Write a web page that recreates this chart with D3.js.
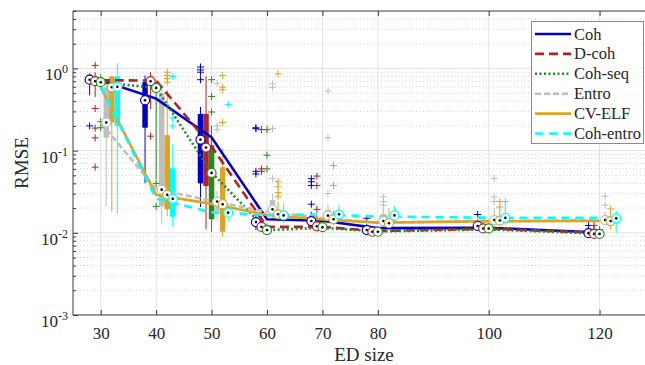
<!DOCTYPE html>
<html><head><meta charset="utf-8">
<script src="https://cdn.jsdelivr.net/npm/d3@7"></script>
<style>
body{margin:0;background:#fff}
text{font-family:"Liberation Serif","Times New Roman",serif;fill:#262626}
</style>
</head><body>
<svg id="c" width="645" height="365"></svg>
<script>
// ---------------- DATA ----------------
const sizes = [30, 40, 50, 60, 70, 80, 100, 120];
const methods = ["Coh", "D-coh", "Coh-seq", "Entro", "CV-ELF", "Coh-entro"];
const groupOffsets = [-2, -1, 0, 1, 2, 3];
const yTickExps = [-3, -2, -1, 0];

// Coh
const cohMed  = [0.73, 0.41, 0.136, 0.0135, 0.0139, 0.0108, 0.0121, 0.0099];
const cohQ1   = [0.70, 0.19, 0.040, 0.0125, 0.0130, 0.0104, 0.0116, 0.0096];
const cohQ3   = [0.77, 0.68, 0.28, 0.0145, 0.0148, 0.0114, 0.0127, 0.0104];
const cohLo   = [0.47, 0.040, 0.0206, 0.0108, 0.0115, 0.0098, 0.0108, 0.0092];
const cohHi   = [0.87, 0.82, 0.34, 0.018, 0.018, 0.0128, 0.0145, 0.0115];
const cohOut  = [[0.2], [], [1.04, 0.96, 0.9, 0.73], [0.19, 0.185, 0.056, 0.052], [0.0456, 0.0418, 0.0377, 0.0223], [0.015], [0.0167], [0.0123]];
const cohLine = [0.72, 0.43, 0.145, 0.0146, 0.014, 0.0114, 0.0115, 0.0101];

// D-coh
const dcohMed  = [0.70, 0.70, 0.109, 0.0118, 0.0120, 0.0103, 0.0113, 0.0097];
const dcohQ1   = [0.67, 0.65, 0.037, 0.0112, 0.0115, 0.0099, 0.0109, 0.0094];
const dcohQ3   = [0.74, 0.76, 0.28, 0.0128, 0.0128, 0.0109, 0.0119, 0.0102];
const dcohLo   = [0.45, 0.32, 0.011, 0.0105, 0.0108, 0.0095, 0.0103, 0.0091];
const dcohHi   = [0.90, 0.90, 0.80, 0.016, 0.016, 0.012, 0.013, 0.011];
const dcohOut  = [[1.09, 0.326, 0.188, 0.143, 0.063], [0.15], [], [0.18, 0.06, 0.056], [0.049, 0.0377, 0.0193], [], [], [0.0123, 0.011]];
const dcohLine = [0.72, 0.71, 0.112, 0.0118, 0.0118, 0.0105, 0.0112, 0.0100];

// Coh-seq
const seqMed  = [0.68, 0.58, 0.0536, 0.0108, 0.0117, 0.0103, 0.0113, 0.0097];
const seqQ1   = [0.65, 0.52, 0.0146, 0.0104, 0.0112, 0.0099, 0.0109, 0.0094];
const seqQ3   = [0.72, 0.64, 0.116, 0.0115, 0.0124, 0.0108, 0.0118, 0.0101];
const seqLo   = [0.55, 0.045, 0.0103, 0.0098, 0.0105, 0.0094, 0.0103, 0.0090];
const seqHi   = [0.85, 0.70, 0.20, 0.013, 0.014, 0.0118, 0.013, 0.0105];
const seqOut  = [[0.225, 0.19], [0.04, 0.021], [0.73, 0.457, 0.295], [0.18, 0.088, 0.06], [], [], [], [0.0109]];
const seqLine = [0.68, 0.58, 0.054, 0.0108, 0.0115, 0.0104, 0.0110, 0.0098];

// Entro
const entMed  = [0.22, 0.0335, 0.024, 0.0193, 0.0162, 0.0139, 0.0143, 0.0143];
const entQ1   = [0.144, 0.021, 0.0185, 0.0175, 0.015, 0.0133, 0.0136, 0.0137];
const entQ3   = [0.59, 0.50, 0.027, 0.025, 0.019, 0.017, 0.016, 0.0155];
const entLo   = [0.0207, 0.013, 0.014, 0.0145, 0.0128, 0.0118, 0.012, 0.0125];
const entHi   = [0.68, 0.60, 0.032, 0.030, 0.022, 0.020, 0.020, 0.018];
const entOut  = [[], [], [0.66, 0.2, 0.18], [0.65, 0.59, 0.185, 0.0456], [0.53, 0.144, 0.03], [0.0274, 0.024, 0.0217], [0.046, 0.0274, 0.024], [0.0279, 0.0217]];
const entLine = [0.22, 0.034, 0.0245, 0.018, 0.0151, 0.0133, 0.0138, 0.0143];

// CV-ELF
const cvMed  = [0.59, 0.029, 0.0223, 0.0168, 0.0146, 0.0131, 0.0141, 0.0139];
const cvQ1   = [0.22, 0.0193, 0.0103, 0.0155, 0.0138, 0.0125, 0.0133, 0.0128];
const cvQ3   = [0.80, 0.154, 0.063, 0.019, 0.0158, 0.0145, 0.0152, 0.0152];
const cvLo   = [0.018, 0.016, 0.009, 0.0135, 0.0125, 0.0115, 0.0122, 0.0108];
const cvHi   = [0.82, 0.55, 0.107, 0.024, 0.019, 0.0198, 0.019, 0.0185];
const cvOut  = [[], [0.9, 0.82, 0.75, 0.68], [0.82, 0.59, 0.55, 0.22], [0.86, 0.0418, 0.0363, 0.031, 0.0274], [0.066, 0.0377], [], [0.024, 0.0206], [0.0195]];
const cvLine = [0.59, 0.029, 0.0225, 0.0165, 0.0145, 0.0133, 0.0138, 0.0139];

// Coh-entro
const ceMed  = [0.60, 0.026, 0.0176, 0.0163, 0.0168, 0.0163, 0.0152, 0.0150];
const ceQ1   = [0.20, 0.0157, 0.016, 0.0152, 0.0155, 0.0152, 0.0143, 0.0142];
const ceQ3   = [0.80, 0.061, 0.0195, 0.0178, 0.018, 0.0175, 0.0165, 0.016];
const ceLo   = [0.017, 0.012, 0.0138, 0.013, 0.0135, 0.0135, 0.0125, 0.0100];
const ceHi   = [1.16, 0.12, 0.023, 0.023, 0.022, 0.021, 0.024, 0.0187];
const ceOut  = [[], [0.8, 0.25, 0.2], [0.365], [], [], [], [0.024], []];
const ceLine = [0.60, 0.026, 0.0178, 0.0165, 0.0167, 0.0158, 0.0153, 0.0152];

// ---------------- STYLE ----------------
const colors = ["#0000cd", "#b22222", "#228b22", "#bebebe", "#daa520", "#00ffff"];
const dashes = [null, "9,5", "2,2.5", "6,3", null, "8,6"];
const FONT = '"Liberation Serif","Times New Roman",serif';

const series = [
  {med: cohMed, q1: cohQ1, q3: cohQ3, lo: cohLo, hi: cohHi, out: cohOut, line: cohLine},
  {med: dcohMed, q1: dcohQ1, q3: dcohQ3, lo: dcohLo, hi: dcohHi, out: dcohOut, line: dcohLine},
  {med: seqMed, q1: seqQ1, q3: seqQ3, lo: seqLo, hi: seqHi, out: seqOut, line: seqLine},
  {med: entMed, q1: entQ1, q3: entQ3, lo: entLo, hi: entHi, out: entOut, line: entLine},
  {med: cvMed, q1: cvQ1, q3: cvQ3, lo: cvLo, hi: cvHi, out: cvOut, line: cvLine},
  {med: ceMed, q1: ceQ1, q3: ceQ3, lo: ceLo, hi: ceHi, out: ceOut, line: ceLine}
].map((s, i) => Object.assign(s, {name: methods[i], color: colors[i], dash: dashes[i], off: groupOffsets[i]}));

// ---------------- CHART ----------------
const svg = d3.select("#c");
const L = 73, T = 11, B = 315, R = 655;
const x = d3.scaleLinear().domain([25, 130]).range([L, R]);
const y = d3.scaleLog().domain([1e-3, 5]).range([B, T]);

svg.append("rect").attr("width", 645).attr("height", 365).attr("fill", "#fff");
svg.append("defs").append("clipPath").attr("id", "clip")
  .append("rect").attr("x", L).attr("y", T).attr("width", R - L).attr("height", B - T);

const minorVals = [];
yTickExps.forEach(e => { for (let k = 2; k <= 9; k++) { const v = k * Math.pow(10, e); if (v <= 5) minorVals.push(v); } });
const majorVals = yTickExps.map(e => Math.pow(10, e));

const grid = svg.append("g").attr("clip-path", "url(#clip)");
grid.selectAll(".mn").data(minorVals).join("line")
  .attr("x1", L).attr("x2", R).attr("y1", d => y(d)).attr("y2", d => y(d))
  .attr("stroke", "#c4c4c4").attr("stroke-width", 0.8).attr("stroke-dasharray", "1,2.5");
grid.selectAll(".mj").data(majorVals).join("line")
  .attr("x1", L).attr("x2", R).attr("y1", d => y(d)).attr("y2", d => y(d))
  .attr("stroke", "#e2e2e2").attr("stroke-width", 1);
grid.selectAll(".vx").data(sizes).join("line")
  .attr("x1", d => x(d)).attr("x2", d => x(d)).attr("y1", T).attr("y2", B)
  .attr("stroke", "#e2e2e2").attr("stroke-width", 1);

const plot = svg.append("g").attr("clip-path", "url(#clip)");

// whiskers
series.forEach(s => {
  plot.append("g").selectAll("line").data(sizes).join("line")
    .attr("x1", d => x(d + s.off)).attr("x2", d => x(d + s.off))
    .attr("y1", (d, j) => y(s.lo[j])).attr("y2", (d, j) => y(s.hi[j]))
    .attr("stroke", s.color).attr("stroke-width", 1);
});
// boxes
series.forEach(s => {
  plot.append("g").selectAll("line").data(sizes).join("line")
    .attr("x1", d => x(d + s.off)).attr("x2", d => x(d + s.off))
    .attr("y1", (d, j) => y(s.q1[j])).attr("y2", (d, j) => y(s.q3[j]))
    .attr("stroke", s.color).attr("stroke-width", 5.5);
});
// outliers
series.forEach(s => {
  const pts = [];
  sizes.forEach((d, j) => s.out[j].forEach(v => pts.push({xv: d + s.off, v})));
  plot.append("g").selectAll("path").data(pts).join("path")
    .attr("d", p => { const cx = x(p.xv), cy = y(p.v); return `M${cx - 3.5},${cy}H${cx + 3.5}M${cx},${cy - 3.5}V${cy + 3.5}`; })
    .attr("stroke", s.color).attr("stroke-width", 1).attr("fill", "none");
});
// trend lines
const lineGen = d3.line().x(d => x(d.s)).y(d => y(d.v));
series.forEach(s => {
  plot.append("path").datum(sizes.map((d, j) => ({s: d, v: s.line[j]})))
    .attr("d", lineGen).attr("fill", "none").attr("stroke", s.color)
    .attr("stroke-width", 2.6).attr("stroke-dasharray", s.dash);
});
// medians
series.forEach(s => {
  const g = plot.append("g");
  g.selectAll("circle.r").data(sizes).join("circle")
    .attr("cx", d => x(d + s.off)).attr("cy", (d, j) => y(s.med[j])).attr("r", 4.5)
    .attr("fill", "#fff").attr("stroke", s.color).attr("stroke-width", 1.2);
  g.selectAll("circle.d").data(sizes).join("circle")
    .attr("cx", d => x(d + s.off)).attr("cy", (d, j) => y(s.med[j])).attr("r", 1.3)
    .attr("fill", "#000");
});

// axes frame
const frame = "#3a3a3a";
svg.append("line").attr("x1", L).attr("x2", R).attr("y1", B).attr("y2", B).attr("stroke", frame);
svg.append("line").attr("x1", L).attr("x2", R).attr("y1", T).attr("y2", T).attr("stroke", frame);
svg.append("line").attr("x1", L).attr("x2", L).attr("y1", T).attr("y2", B).attr("stroke", frame);

const xAxis = svg.append("g").attr("transform", `translate(0,${B})`)
  .call(d3.axisBottom(x).tickValues(sizes).tickSize(-5).tickPadding(12).tickFormat(d3.format("d")));
xAxis.attr("font-family", null).attr("font-size", null);
xAxis.select(".domain").remove();
xAxis.selectAll("line").attr("stroke", frame);
xAxis.selectAll("text").style("font-family", FONT).style("font-size", "17px").attr("fill", "#262626");

const xTop = svg.append("g").attr("transform", `translate(0,${T})`)
  .call(d3.axisTop(x).tickValues(sizes).tickSize(-5).tickFormat(""));
xTop.select(".domain").remove();
xTop.selectAll("line").attr("stroke", frame);

const yAx = svg.append("g").attr("transform", `translate(${L},0)`)
  .call(d3.axisLeft(y).tickValues(majorVals).tickSize(-5).tickFormat(""));
yAx.select(".domain").remove();
yAx.selectAll("line").attr("stroke", frame);
const yMin = svg.append("g").attr("transform", `translate(${L},0)`)
  .call(d3.axisLeft(y).tickValues(minorVals).tickSize(-3).tickFormat(""));
yMin.select(".domain").remove();
yMin.selectAll("line").attr("stroke", frame);

// y labels with superscripts
yTickExps.forEach(e => {
  const t = svg.append("text").attr("x", 68).attr("y", y(Math.pow(10, e)) + 12)
    .attr("text-anchor", "end").style("font-family", FONT).style("font-size", "17px");
  t.append("tspan").text("10");
  t.append("tspan").attr("dy", -7).style("font-size", "12px").text(String(e));
});

svg.append("text").attr("x", 364).attr("y", 361).attr("text-anchor", "middle")
  .style("font-family", FONT).style("font-size", "19px").text("ED size");
svg.append("text").attr("transform", "translate(28,163) rotate(-90)").attr("text-anchor", "middle")
  .style("font-family", FONT).style("font-size", "19px").text("RMSE");

// legend
const lg = svg.append("g");
lg.append("rect").attr("x", 531.5).attr("y", 21.5).attr("width", 112).attr("height", 122)
  .attr("fill", "#fff").attr("stroke", "#8a8a8a").attr("stroke-width", 1);
series.forEach((s, i) => {
  const ly = 34 + i * 19.9;
  lg.append("line").attr("x1", 535).attr("x2", 571).attr("y1", ly).attr("y2", ly)
    .attr("stroke", s.color).attr("stroke-width", 2.6).attr("stroke-dasharray", s.dash);
  lg.append("text").attr("x", 574).attr("y", ly + 5.5)
    .style("font-family", FONT).style("font-size", "16.5px").text(s.name);
});
</script>
</body></html>
